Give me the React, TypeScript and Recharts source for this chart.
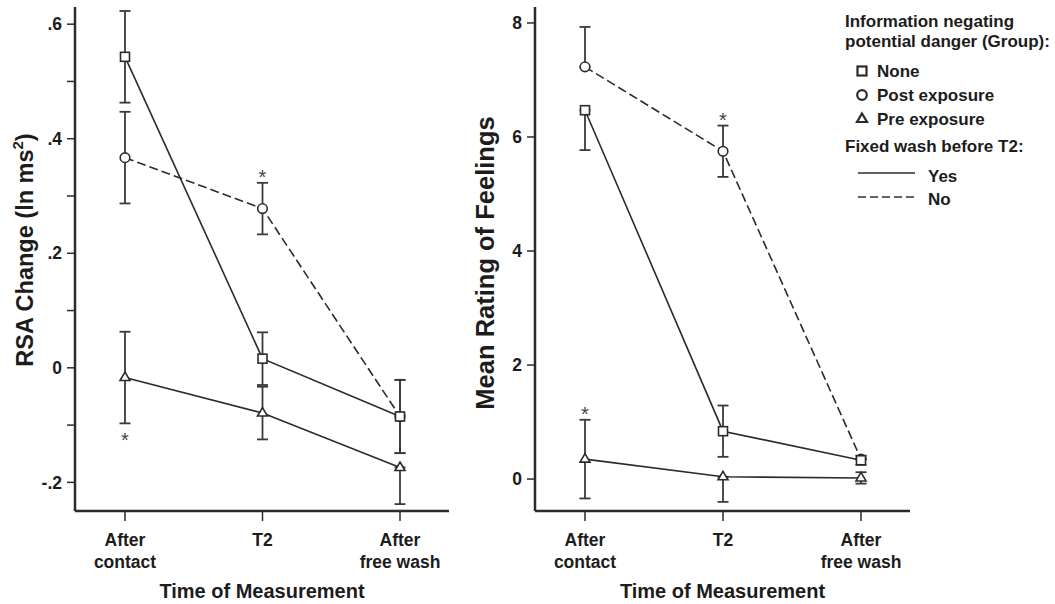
import React from 'react';
import { LineChart, Line, XAxis, YAxis, ErrorBar, ReferenceDot, Legend, Label } from 'recharts';

const FONT = '"Liberation Sans", Arial, Helvetica, sans-serif';
const INK = '#1c1c1c';
const LINE = '#2b2b2b';

const times = ['After contact', 'T2', 'After free wash'];
const timeLines = [['After', 'contact'], ['T2'], ['After', 'free wash']];

// left panel: RSA change
const rsaNone = [0.543, 0.016, -0.085];
const rsaNoneErr = [[0.08, 0.08], [0.046, 0.046], [0.064, 0.064]];
const rsaPost = [0.367, 0.278, -0.085];
const rsaPostErr = [[0.08, 0.08], [0.045, 0.045], [0.064, 0.064]];
const rsaPre = [-0.017, -0.079, -0.174];
const rsaPreErr = [[0.08, 0.08], [0.046, 0.046], [0.064, 0]];
const rsaTicks = [-0.2, -0.1, 0, 0.1, 0.2, 0.3, 0.4, 0.5, 0.6];
const rsaTickLabels = ['-.2', '', '0', '', '.2', '', '.4', '', '.6'];
const rsaStars = [{ time: 'T2', y: 0.34 }, { time: 'After contact', y: -0.119 }];

// right panel: mean rating of feelings
const feelNone = [6.47, 0.84, 0.33];
const feelNoneErr = [[0.7, 0], [0.45, 0.45], [0.08, 0.08]];
const feelPost = [7.23, 5.75, 0.35];
const feelPostErr = [[0, 0.7], [0.45, 0.45], [0, 0]];
const feelPre = [0.35, 0.04, 0.02];
const feelPreErr = [[0.69, 0.69], [0.44, 0], [0.1, 0.1]];
const feelTicks = [0, 2, 4, 6, 8];
const feelTickLabels = ['0', '2', '4', '6', '8'];
const feelStars = [{ time: 'T2', y: 6.37 }, { time: 'After contact', y: 1.21 }];

const groups = ['None', 'Post exposure', 'Pre exposure'];
const groupShapes = ['square', 'circle', 'triangle'];
const washLabels = ['Yes', 'No'];

const rsaData = times.map((time, i) => ({
  time,
  none: rsaNone[i], noneErr: rsaNoneErr[i],
  post: rsaPost[i], postErr: rsaPostErr[i],
  pre: rsaPre[i], preErr: rsaPreErr[i],
}));

const feelData = times.map((time, i) => ({
  time,
  none: feelNone[i], noneErr: feelNoneErr[i],
  post: feelPost[i], postErr: feelPostErr[i],
  pre: feelPre[i], preErr: feelPreErr[i],
}));

const Marker = ({ cx, cy, shape, sw = 1.6 }: any) => {
  if (shape === 'square')
    return <rect x={cx - 4.5} y={cy - 4.5} width={9} height={9} fill="#fff" stroke={LINE} strokeWidth={sw} />;
  if (shape === 'circle')
    return <circle cx={cx} cy={cy} r={4.8} fill="#fff" stroke={LINE} strokeWidth={sw} />;
  return (
    <path d={`M${cx},${cy - 5.5} L${cx + 5},${cy + 3} L${cx - 5},${cy + 3} Z`} fill="#fff" stroke={LINE} strokeWidth={sw} />
  );
};

const TimeTick = ({ x, y, index }: any) => (
  <text x={x} y={y} textAnchor="middle" fontSize={17.5} fontWeight="bold" fill={INK} fontFamily={FONT}>
    {timeLines[index].map((line, i) => (
      <tspan key={i} x={x} dy={i === 0 ? 14 : 22}>{line}</tspan>
    ))}
  </text>
);

const Star = ({ cx, cy }: any) => (
  <text x={cx} y={cy + 11} textAnchor="middle" fontSize={20} fill="#444" fontFamily={FONT}>*</text>
);

const GroupLegend = () => {
  const txt = { fontSize: 17, fontWeight: 'bold' as const, fill: INK, fontFamily: FONT };
  return (
    <svg width={215} height={215}>
      <text x={5} y={27} {...txt}>Information negating</text>
      <text x={5} y={47} {...txt}>potential danger (Group):</text>
      {groups.map((g, i) => (
        <g key={g}>
          <Marker cx={22} cy={71 + i * 24} shape={groupShapes[i]} sw={2.2} />
          <text x={37} y={77 + i * 24} {...txt}>{g}</text>
        </g>
      ))}
      <text x={5} y={152} {...txt}>Fixed wash before T2:</text>
      {washLabels.map((w, i) => (
        <g key={w}>
          <line x1={18} x2={75} y1={173 + i * 24} y2={173 + i * 24} stroke={LINE} strokeWidth={1.5}
            strokeDasharray={i === 1 ? '8 4' : undefined} />
          <text x={88} y={182 + i * 23} {...txt}>{w}</text>
        </g>
      ))}
    </svg>
  );
};

type PanelProps = {
  data: any[];
  domain: [number, number];
  ticks: number[];
  tickLabels: string[];
  stars: { time: string; y: number }[];
  title: React.ReactNode;
  titleSize: number;
  titleShift: number;
  width: number;
  right: number;
  legend?: boolean;
};

const Panel = ({ data, domain, ticks, tickLabels, stars, title, titleSize, titleShift, width, right, legend }: PanelProps) => {
  // post drawn first so the squares sit on top where they overlap
  const series = [
    { key: 'post', shape: 'circle', dash: '9 4' },
    { key: 'none', shape: 'square', dash: undefined },
    { key: 'pre', shape: 'triangle', dash: undefined },
  ];
  return (
    <LineChart width={width} height={604} data={data} margin={{ top: 7, right, bottom: 0, left: 0 }}>
      <XAxis
        dataKey="time"
        type="category"
        padding={{ left: 50, right: 49 }}
        height={93}
        tick={<TimeTick />}
        tickSize={10}
        tickMargin={11}
        interval={0}
        axisLine={{ stroke: LINE, strokeWidth: 2.5 }}
        tickLine={{ stroke: LINE, strokeWidth: 1.5 }}
      >
        <Label
          content={({ viewBox }: any) => (
            <text x={viewBox.x + viewBox.width / 2} y={viewBox.y + 87} textAnchor="middle"
              fontSize={20} fontWeight="bold" fill={INK} fontFamily={FONT}>
              Time of Measurement
            </text>
          )}
        />
      </XAxis>
      <YAxis
        type="number"
        width={75}
        domain={domain}
        allowDataOverflow
        ticks={ticks}
        interval={0}
        tickFormatter={(_v: number, i: number) => tickLabels[i]}
        tickSize={8}
        tickMargin={5}
        tick={{ fontSize: 17.5, fontWeight: 'bold', fill: INK, fontFamily: FONT }}
        axisLine={{ stroke: LINE, strokeWidth: 2.5 }}
        tickLine={{ stroke: LINE, strokeWidth: 1.5 }}
      >
        <Label
          content={({ viewBox }: any) => {
            const cx = 25;
            const cy = viewBox.y + viewBox.height / 2 + titleShift;
            return (
              <text x={cx} y={cy} transform={`rotate(-90, ${cx}, ${cy})`} textAnchor="middle"
                dominantBaseline="central" fontSize={titleSize} fontWeight="bold" fill={INK} fontFamily={FONT}>
                {title}
              </text>
            );
          }}
        />
      </YAxis>
      {series.map((s) => (
        <Line
          key={s.key}
          dataKey={s.key}
          stroke={LINE}
          strokeWidth={1.6}
          strokeDasharray={s.dash}
          isAnimationActive={false}
          dot={(p: any) => <Marker key={p.index} cx={p.cx} cy={p.cy} shape={s.shape} />}
          activeDot={false}
        >
          <ErrorBar dataKey={`${s.key}Err`} width={5.5} stroke="#3a3a3a" strokeWidth={1.8} direction="y" />
        </Line>
      ))}
      {stars.map((st, i) => (
        <ReferenceDot key={i} x={st.time} y={st.y} r={0} ifOverflow="visible" shape={(p: any) => <Star {...p} />} />
      ))}
      {legend && (
        <Legend
          layout="horizontal"
          verticalAlign="middle"
          align="center"
          content={() => <GroupLegend />}
          wrapperStyle={{ left: 380, top: 0, width: 215, height: 215 }}
        />
      )}
    </LineChart>
  );
};

export default function App() {
  return (
    <div style={{ position: 'absolute', left: 0, top: 0, width: 1055, height: 604, background: '#fff' }}>
      <div style={{ position: 'absolute', left: 0, top: 0 }}>
        <Panel
          data={rsaData}
          domain={[-0.25, 0.63]}
          ticks={rsaTicks}
          tickLabels={rsaTickLabels}
          stars={rsaStars}
          title={
            <>
              <tspan>RSA Change (ln ms</tspan>
              <tspan dy={-8} fontSize={15}>2</tspan>
              <tspan dy={8}>)</tspan>
            </>
          }
          titleSize={23.5}
          titleShift={-9}
          width={460}
          right={11}
        />
      </div>
      <div style={{ position: 'absolute', left: 460, top: 0 }}>
        <Panel
          data={feelData}
          domain={[-0.56, 8.28]}
          ticks={feelTicks}
          tickLabels={feelTickLabels}
          stars={feelStars}
          title="Mean Rating of Feelings"
          titleSize={25.5}
          titleShift={4}
          width={595}
          right={145}
          legend
        />
      </div>
    </div>
  );
}
